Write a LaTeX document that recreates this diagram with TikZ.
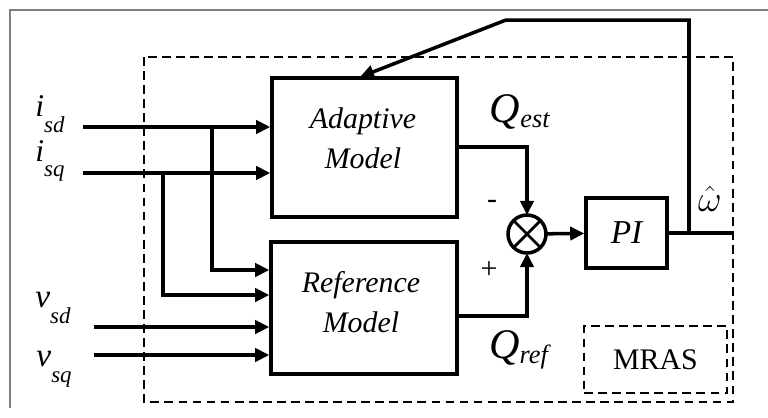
\documentclass[tikz,border=0pt]{standalone}
\usepackage{fontspec}
\setmainfont{Liberation Serif}
\usetikzlibrary{positioning,calc,arrows.meta}
\newcommand{\sgn}[2]{\textit{#1}\raisebox{-9pt}{\fontsize{13}{13}\selectfont\textit{#2}}}
\newcommand{\qlab}[2]{\textit{#1}\raisebox{-3pt}{\fontsize{15}{15}\selectfont\textit{#2}}}

\begin{document}
\begin{tikzpicture}[x=0.02cm,y=-0.02cm,
 blk/.style={draw,line width=2pt,inner sep=0pt},
 txt/.style={align=center,font=\fontsize{17}{23}\selectfont\itshape,inner sep=0pt},
 sig/.style={line width=2pt,-{Triangle[length=8pt,width=7.5pt]}},
 wire/.style={line width=2pt},
 dbox/.style={draw,line width=1.1pt,dash pattern=on 5pt off 3pt}]
\useasboundingbox (0,0) rectangle (768,417);
\draw[gray,line width=0.6pt] (10,408)--(10,10)--(768,10);
\draw[dbox] (144,57) rectangle (733,402);
% blocks
\node[blk,minimum width=3.7cm,minimum height=2.78cm] (adapt) at (364.5,147.5) {};
\node[blk,minimum width=3.72cm,minimum height=2.64cm] (ref) at (364,308) {};
\node[txt] (adapttxt) at (363,138) {Adaptive\\Model};
\node[txt] (reftxt) at (361,302) {Reference\\Model};
\node[blk,minimum width=1.62cm,minimum height=1.4cm,font=\fontsize{19}{19}\selectfont\itshape] (pi) at (626.5,233) {PI};
\node[circle,draw,line width=2pt,minimum size=0.76cm,inner sep=0pt,outer sep=0pt] (sum) at (527,234) {};
\draw[line width=1.6pt] (sum.north west)--(sum.south east) (sum.north east)--(sum.south west);
\node[dbox,minimum width=2.86cm,minimum height=1.34cm,font=\fontsize{17}{17}\selectfont] (mras) at (655.5,359.5) {MRAS};
% inputs
\node (isdl) at (50,114) {\fontsize{18}{18}\selectfont\sgn{i}{sd}};
\node (isql) at (50,161) {\fontsize{18}{18}\selectfont\sgn{i}{sq}};
\node (vsdl) at (53,308) {\fontsize{19}{19}\selectfont\sgn{v}{sd}};
\node (vsql) at (54,369) {\fontsize{19}{19}\selectfont\sgn{v}{sq}};
\coordinate (isd) at (83,127); \coordinate (isq) at (83,173);
\coordinate (vsd) at (94,327); \coordinate (vsq) at (94,355);
\coordinate (bd) at (212,127); \coordinate (bq) at (163,173);
\foreach \c in {isd,isq} {\draw[sig] (\c)--(\c -| adapt.west);}
\foreach \c in {vsd,vsq} {\draw[sig] (\c)--(\c -| ref.west);}
\draw[sig] (bd) |- (ref.west |- 0,270);
\draw[sig] (bq) |- (ref.west |- 0,295);
% error and PI
\draw[sig] (adapt.east |- 0,147) -| (sum.north);
\draw[sig] (ref.east |- 0,316) -| (sum.south);
\draw[sig] (sum)--(pi);
\node (qest) at (520,112) {\fontsize{24}{24}\selectfont\qlab{Q}{est}};
\node (qref) at (520,350) {\fontsize{24}{24}\selectfont\qlab{Q}{ref}};
\node[font=\fontsize{17}{17}\selectfont] (minus) at (492,204) {-};
\node[font=\fontsize{17}{17}\selectfont] (plus) at (489,270) {+};
% speed out and feedback
\coordinate (out) at (733,233); \coordinate (fb) at (689,233);
\coordinate (fbt) at (689,20); \coordinate (fbk) at (506,20); \coordinate (fbend) at (360,77);
\draw[wire] (pi)--(out);
\draw[sig] (fb)--(fbt)--(fbk)--(fbend);
\node[font=\fontsize{22}{22}\selectfont,inner sep=1pt] (what) at (710,199) {$\hat{\omega}$};
\end{tikzpicture}
\end{document}
